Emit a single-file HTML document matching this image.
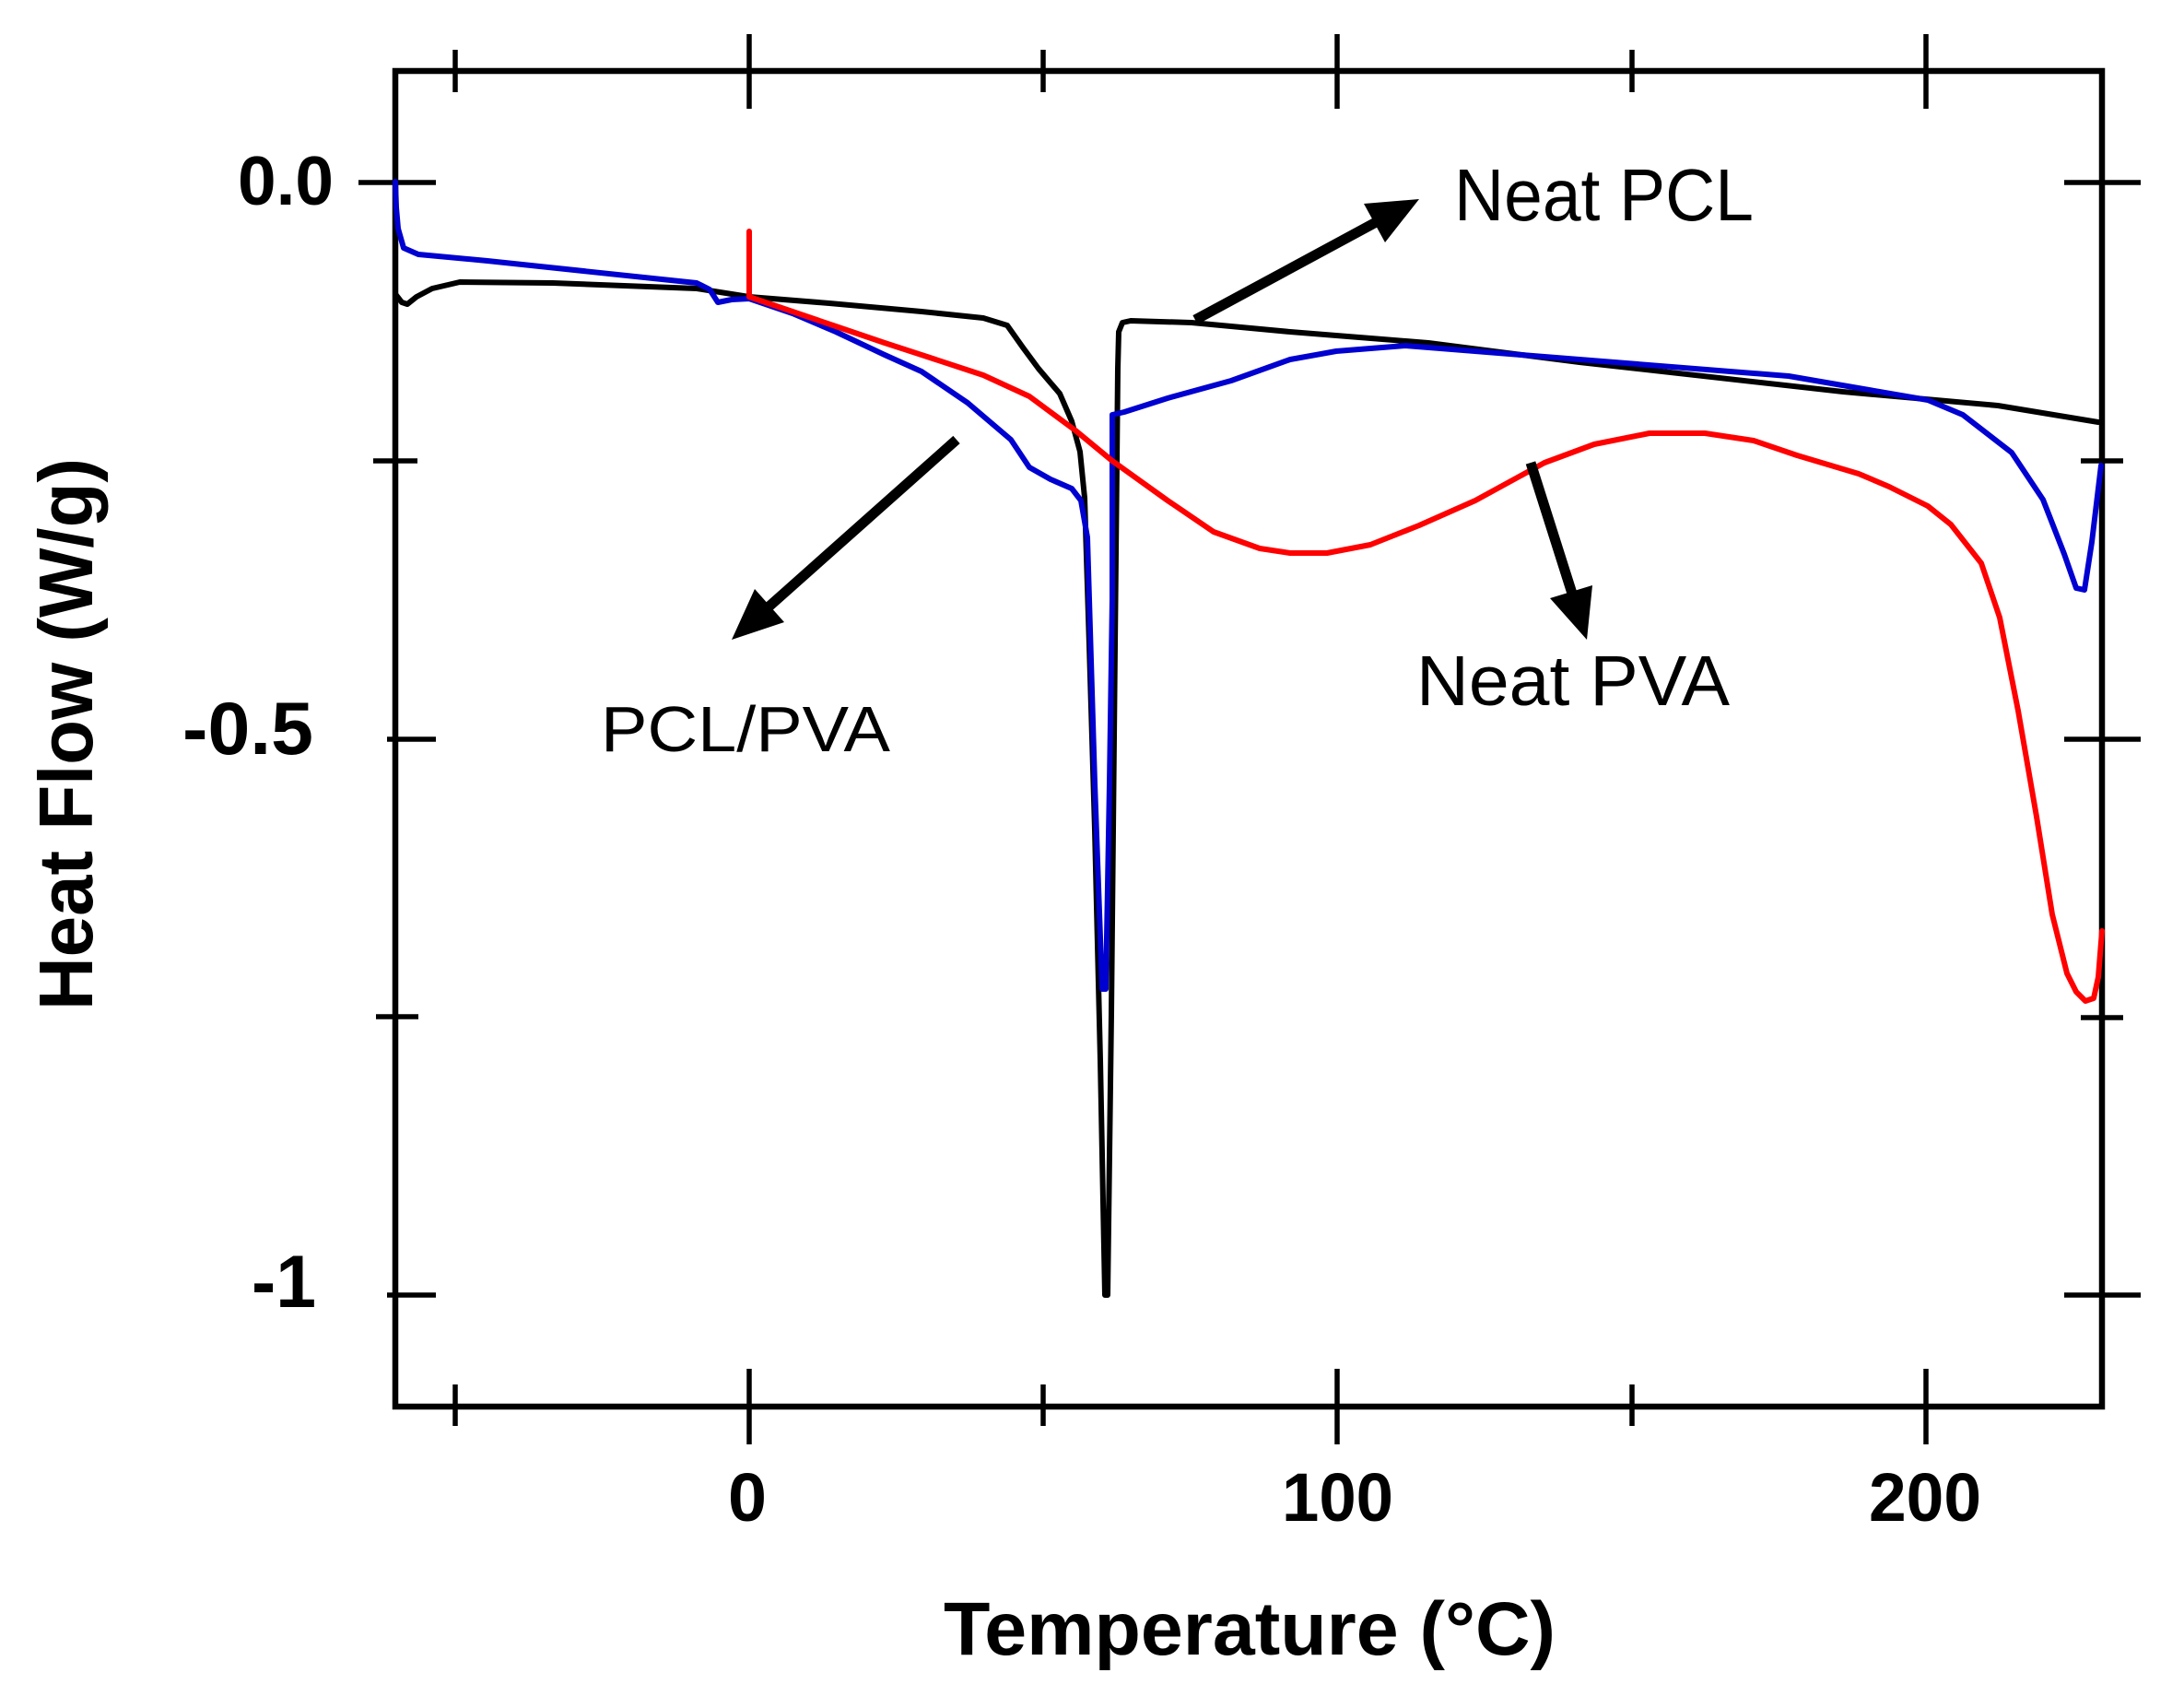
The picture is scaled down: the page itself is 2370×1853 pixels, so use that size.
<!DOCTYPE html>
<html><head><meta charset="utf-8"><style>
html,body{margin:0;padding:0;background:#fff;}
svg{display:block;}
text{font-family:"Liberation Sans",Arial,sans-serif;fill:#000;}
</style></head><body>
<svg width="2370" height="1853" viewBox="0 0 2370 1853" xmlns="http://www.w3.org/2000/svg">
<rect width="2370" height="1853" fill="#fff"/>
<!-- frame -->
<rect x="429" y="77" width="1852" height="1449" fill="none" stroke="#000" stroke-width="6.5"/>
<g stroke="#000" stroke-width="5.5">
<!-- top ticks -->
<line x1="494" y1="54" x2="494" y2="100"/>
<line x1="813" y1="37" x2="813" y2="118"/>
<line x1="1132" y1="54" x2="1132" y2="100"/>
<line x1="1451" y1="37" x2="1451" y2="118"/>
<line x1="1771" y1="54" x2="1771" y2="100"/>
<line x1="2090" y1="37" x2="2090" y2="118"/>
<!-- bottom ticks -->
<line x1="494" y1="1502" x2="494" y2="1547"/>
<line x1="813" y1="1485" x2="813" y2="1567"/>
<line x1="1132" y1="1502" x2="1132" y2="1547"/>
<line x1="1451" y1="1485" x2="1451" y2="1567"/>
<line x1="1771" y1="1502" x2="1771" y2="1547"/>
<line x1="2090" y1="1485" x2="2090" y2="1567"/>
<!-- left ticks -->
<line x1="389" y1="198" x2="473" y2="198"/>
<line x1="405" y1="500" x2="453" y2="500"/>
<line x1="420" y1="802" x2="473" y2="802"/>
<line x1="408" y1="1103" x2="454" y2="1103"/>
<line x1="420" y1="1405" x2="473" y2="1405"/>
<!-- right ticks -->
<line x1="2240" y1="198" x2="2323" y2="198"/>
<line x1="2258" y1="500" x2="2304" y2="500"/>
<line x1="2240" y1="802" x2="2323" y2="802"/>
<line x1="2258" y1="1104" x2="2304" y2="1104"/>
<line x1="2240" y1="1405" x2="2323" y2="1405"/>
</g>

<!-- curves -->
<g fill="none" stroke-width="6" stroke-linejoin="round" stroke-linecap="round">
<polyline stroke="#000" points="429,319 436,328 442,330 452,322 469,313 499,306 600,307 756,313 813,322 900,329 1000,338 1067,345 1093,353 1110,377 1127,400 1150,427 1163,457 1172,490 1177,540 1182,700 1188,900 1194,1150 1199,1405 1202,1405 1206,1100 1210,700 1213,400 1214,360 1218,350 1227,348 1293,350 1400,360 1500,368 1550,372 1714,393 2000,425 2168,440 2277,458"/>
<polyline stroke="#0000d0" points="429,197 430,225 432,248 438,269 454,276 529,283 756,307 770,314 779,328 794,325 813,324 860,340 907,360 960,385 1000,403 1050,437 1097,477 1117,507 1140,520 1163,530 1173,543 1180,583 1182,650 1188,850 1196,1073 1200,1073 1204,850 1207,650 1207,450 1220,447 1267,432 1336,413 1400,390 1450,381 1525,375 1714,390 1941,408 2092,434 2130,450 2183,491 2217,542 2240,601 2253,638 2262,640 2270,588 2280,505"/>
<polyline stroke="#ff0000" points="813,251 813,322 860,338 907,354 960,372 1000,385 1067,407 1117,430 1167,467 1207,500 1267,543 1317,577 1367,595 1400,600 1440,600 1487,591 1540,570 1601,543 1676,502 1730,482 1790,470 1850,470 1903,478 1950,494 2017,514 2050,528 2092,549 2117,569 2150,611 2170,670 2190,771 2210,886 2227,992 2243,1056 2253,1076 2263,1086 2272,1083 2277,1060 2281,1010"/>
</g>

<!-- arrows -->
<g stroke="#000" stroke-width="11" stroke-linecap="butt">
<line x1="1038" y1="477" x2="830" y2="662"/>
<line x1="1297" y1="347" x2="1497" y2="239"/>
<line x1="1661" y1="502" x2="1707" y2="647"/>
</g>
<g fill="#000">
<polygon points="794,694 851,675 819,639"/>
<polygon points="1540,216 1503,263 1480,221"/>
<polygon points="1722,694 1728,635 1682,649"/>
</g>

<!-- annotation labels -->
<text x="1578" y="239" font-size="80" textLength="325" lengthAdjust="spacingAndGlyphs">Neat PCL</text>
<text x="1537" y="765" font-size="77" textLength="340" lengthAdjust="spacingAndGlyphs">Neat PVA</text>
<text x="652" y="815" font-size="70" textLength="314" lengthAdjust="spacingAndGlyphs">PCL/PVA</text>

<!-- tick labels -->
<g font-weight="bold">
<text x="258" y="222" font-size="75" textLength="104" lengthAdjust="spacingAndGlyphs">0.0</text>
<text x="198" y="818" font-size="81" textLength="142" lengthAdjust="spacingAndGlyphs">-0.5</text>
<text x="273" y="1418" font-size="81" textLength="70" lengthAdjust="spacingAndGlyphs">-1</text>
<text x="790" y="1650" font-size="74" textLength="42" lengthAdjust="spacingAndGlyphs">0</text>
<text x="1391" y="1650" font-size="74" textLength="121" lengthAdjust="spacingAndGlyphs">100</text>
<text x="2028" y="1650" font-size="74" textLength="122" lengthAdjust="spacingAndGlyphs">200</text>
<text x="1024" y="1795" font-size="82" textLength="664" lengthAdjust="spacingAndGlyphs">Temperature (°C)</text>
<text transform="translate(100,1096) rotate(-90)" x="0" y="0" font-size="83" textLength="599" lengthAdjust="spacingAndGlyphs">Heat Flow (W/g)</text>
</g>
</svg>
</body></html>
